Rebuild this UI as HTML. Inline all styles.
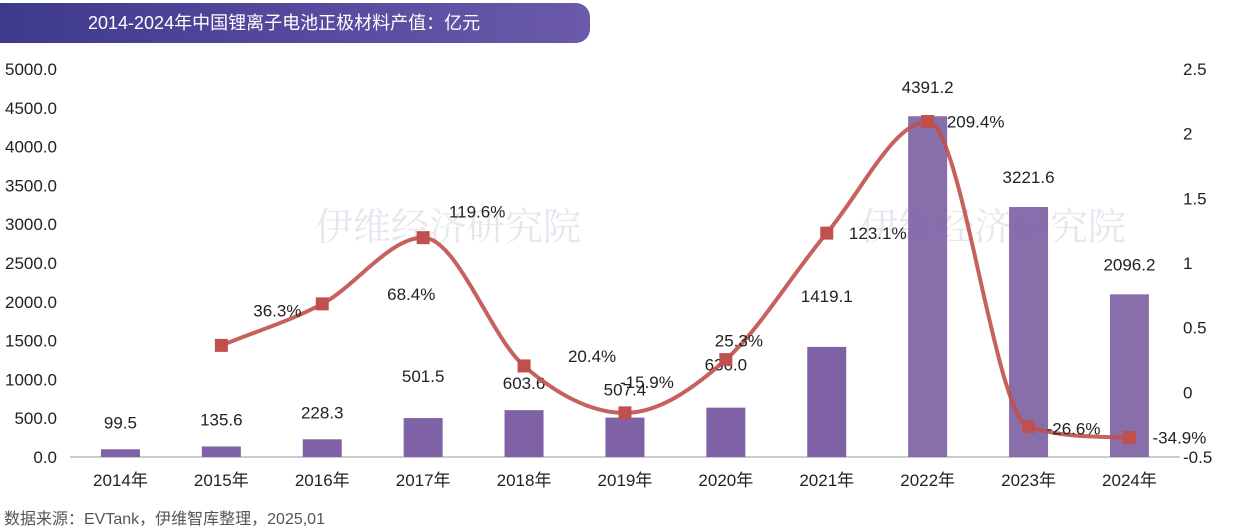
<!DOCTYPE html>
<html><head><meta charset="utf-8"><style>
body{margin:0;width:1236px;height:531px;background:#fff;overflow:hidden;font-family:"Liberation Sans","Noto Sans CJK SC",sans-serif}
#title{position:absolute;left:0;top:3px;width:590px;height:40px;border-radius:0 14px 14px 0;background:linear-gradient(90deg,#3d3a8c,#5a4ca0 60%,#6b5aab);color:#fff;font-size:18px;line-height:40px;padding-left:88px;box-sizing:border-box}
#src{position:absolute;left:4px;top:505px;font-size:16px;color:#555}
svg{position:absolute;left:0;top:0}
</style></head><body>
<div id="title">2014-2024年中国锂离子电池正极材料产值：亿元</div>
<svg id="chart" width="1236" height="531"></svg>
<div id="src">数据来源：EVTank，伊维智库整理，2025,01</div>
<script>
const categories=["2014年","2015年","2016年","2017年","2018年","2019年","2020年","2021年","2022年","2023年","2024年"];
const values=[99.5,135.6,228.3,501.5,603.6,507.4,636.0,1419.1,4391.2,3221.6,2096.2];
const growth=[null,36.3,68.4,119.6,20.4,-15.9,25.3,123.1,209.4,-26.6,-34.9];
const leftTicks=[0,500,1000,1500,2000,2500,3000,3500,4000,4500,5000];
const rightTicks=[-0.5,0,0.5,1,1.5,2,2.5];
const barLabelDy=[-21,-21,-21,-36,-21,-22,-37,-45,-23,-24,-24];
const pctDx=[0,56,89,54,68,22,13,51,48,45,50];
const pctDy=[0,-35,-10,-26,-10,-31,-19,0,0,2,0];
const svg=document.getElementById('chart');const NS='http://www.w3.org/2000/svg';
function mk(t,a,p){const e=document.createElementNS(NS,t);for(const k in a)e.setAttribute(k,a[k]);(p||svg).appendChild(e);return e;}
const x0=70,step=100.9,yB=457,yT=69;
const xS=i=>x0+step*(i+0.5);
const yL=v=>yB-(v/5000)*(yB-yT);
const yR=v=>yB-((v+0.5)/3)*(yB-yT);
const wm=[[95,90],[640,90]];
wm.forEach(([x,y])=>{let t=mk('text',{x:x+220,y:y+150,'font-size':38,fill:'#e6e6ee','font-family':'"Noto Serif CJK SC",serif'});t.textContent='伊维经济研究院';
});
let ax=mk('line',{x1:x0,x2:x0+step*11,y1:yB,y2:yB,stroke:'#bbb','stroke-width':1.5});

leftTicks.forEach(v=>{const t=mk('text',{x:57,y:yL(v)+6,'text-anchor':'end','font-size':17,fill:'#222'});t.textContent=v.toFixed(1);
});
rightTicks.forEach(v=>{const t=mk('text',{x:1183,y:yR(v)+6,'font-size':17,fill:'#222'});t.textContent=String(v);
});
categories.forEach((c,i)=>{const t=mk('text',{x:xS(i),y:486,'text-anchor':'middle','font-size':17,fill:'#222'});t.textContent=c;
});
values.forEach((v,i)=>{const b=mk('rect',{x:xS(i)-19.5,y:yL(v),width:39,height:yB-yL(v),fill:'#7f62a5','fill-opacity':i>=8?0.92:1});

const t=mk('text',{x:xS(i),y:yL(v)+barLabelDy[i],'text-anchor':'middle','font-size':17,fill:'#222'});t.textContent=v.toFixed(1);
});
// monotone cubic line
const pts=[];growth.forEach((g,i)=>{if(g!==null)pts.push([xS(i),yR(g/100)]);});
const n=pts.length,dl=[],m=[];
for(let i=0;i<n-1;i++)dl.push((pts[i+1][1]-pts[i][1])/(pts[i+1][0]-pts[i][0]));
for(let i=0;i<n;i++){if(i===0)m.push(dl[0]);else if(i===n-1)m.push(dl[n-2]);else m.push(dl[i-1]*dl[i]<=0?0:(dl[i-1]+dl[i])/2);}
for(let i=0;i<n-1;i++){if(dl[i]===0){m[i]=m[i+1]=0;continue;}const a=m[i]/dl[i],b=m[i+1]/dl[i],s=a*a+b*b;if(s>9){const t=3/Math.sqrt(s);m[i]=t*a*dl[i];m[i+1]=t*b*dl[i];}}
let d='M'+pts[0][0]+','+pts[0][1];
for(let i=0;i<n-1;i++){const h=(pts[i+1][0]-pts[i][0])/3;
d+=` C${pts[i][0]+h},${pts[i][1]+m[i]*h} ${pts[i+1][0]-h},${pts[i+1][1]-m[i+1]*h} ${pts[i+1][0]},${pts[i+1][1]}`;}
const ln=mk('path',{d:d,fill:'none',stroke:'#c0504d','stroke-width':4,'stroke-opacity':0.9});

growth.forEach((g,i)=>{if(g===null)return;const x=xS(i),y=yR(g/100);
const mm=mk('rect',{x:x-6.5,y:y-6.5,width:13,height:13,fill:'#c0504d'});

const t=mk('text',{x:x+pctDx[i],y:y+pctDy[i]+6,'text-anchor':'middle','font-size':17,fill:'#222'});t.textContent=g.toFixed(1)+'%';
});
</script>
</body></html>
